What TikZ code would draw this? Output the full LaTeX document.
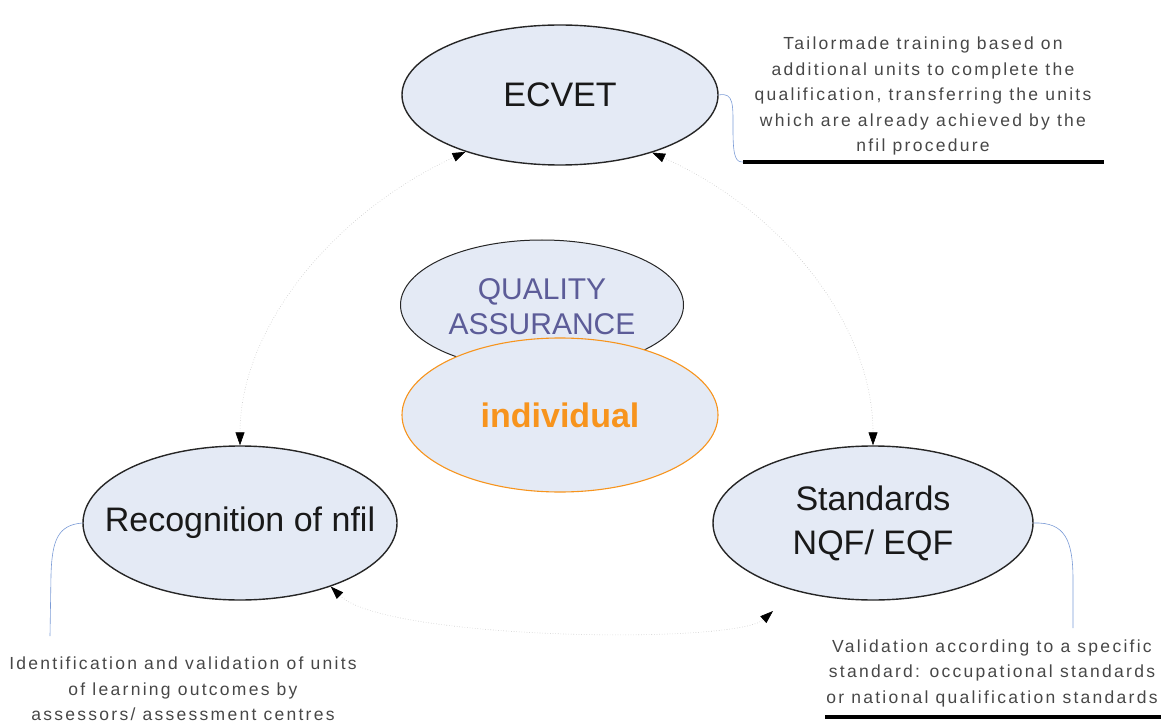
\documentclass[tikz,border=0pt]{standalone}
\usepackage{fontspec}
\setmainfont{Liberation Sans}
\newfontfamily\notefont[LetterSpace=13]{Liberation Sans}
\usetikzlibrary{arrows.meta,shapes.geometric}

\definecolor{bubblefill}{HTML}{E4EAF5}
\definecolor{qatext}{HTML}{5C5C98}
\definecolor{indiv}{HTML}{F7941D}
\definecolor{callout}{HTML}{7B9BD6}

\tikzset{
  bubble/.style={ellipse,draw=black!85,fill=bubblefill,line width=1.4pt,inner sep=0pt},
  bigtext/.style={font=\fontsize{34}{44}\selectfont,align=center,text=black!90},
  note/.style={font=\notefont\fontsize{17.5}{25.5}\selectfont,align=center,text=black!72},
  link/.style={draw=black!22,dotted,line width=0.6pt,
    {Triangle[length=13pt,width=9pt,color=black]}-{Triangle[length=13pt,width=9pt,color=black]}},
  lead/.style={draw=callout,line width=0.6pt},
  rule/.style={line width=3.4pt}
}

\begin{document}
\begin{tikzpicture}[x=1pt,y=-1pt]
  \useasboundingbox (0,0) rectangle (1161,727);

  % the five bubbles
  \node[bubble,minimum width=316pt,minimum height=140pt] (ecvet) at (560,95) {};
  \node[bubble,minimum width=283pt,minimum height=130pt,line width=1pt] (qa) at (542,305) {};
  \node[bubble,draw=indiv,minimum width=316pt,minimum height=154pt,line width=1.1pt] (ind) at (560,415) {};
  \node[bubble,minimum width=314pt,minimum height=154pt] (rec) at (240,523) {};
  \node[bubble,minimum width=320pt,minimum height=154pt] (std) at (873,523) {};

  \node[bigtext] (ecvettext) at (ecvet) {ECVET};
  \node[bigtext,text=qatext,font=\fontsize{30}{35}\selectfont] (qatext) at (542,307) {QUALITY\\ASSURANCE};
  \node[bigtext,text=indiv,font=\fontsize{34}{40}\bfseries] (indtext) at (ind) {individual};
  \node[bigtext] (rectext) at (rec) {Recognition of nfil};
  \node[bigtext] (stdtext) at (873,523) {Standards\\NQF/ EQF};

  % dotted links between the outer bubbles
  \coordinate (stdfoot) at (773,611);
  \draw[link] (ecvet.211) .. controls (330,215) and (240,330) .. (rec.90);
  \draw[link] (ecvet.328) .. controls (790,215) and (873,330) .. (std.90);
  \draw[link] (rec.325) .. controls (385,640) and (735,645) .. (stdfoot);

  % notes with their leader lines
  \coordinate (ecvetrule) at (743,162);
  \coordinate (ecvetruleend) at (1104,162);
  \coordinate (recfoot) at (50,636);
  \coordinate (stdrule) at (1073,628);
  \coordinate (stdruleA) at (825,717);
  \coordinate (stdruleB) at (1161,717);

  \draw[lead] (ecvet.east) .. controls (734,92) and (733,105) .. (733,130)
    .. controls (733,158) and (736,162) .. (ecvetrule);
  \draw[rule] (ecvetrule) -- (ecvetruleend);
  \draw[lead] (rec.west) .. controls (58,525) and (52,540) .. (51,575) -- (recfoot);
  \draw[lead] (std.east) .. controls (1065,522) and (1073,540) .. (1073,580) -- (stdrule);
  \draw[rule] (stdruleA) -- (stdruleB);

  \node[note] (ecvetnote) at (923,96) {Tailormade training based on\\additional units to complete the\\qualification, transferring the units\\which are already achieved by the\\nfil procedure};
  \node[note] (recnote) at (183,689) {Identification and validation of units\\of learning outcomes by\\assessors/ assessment centres};
  \node[note] (stdnote) at (992,673) {Validation according to a specific\\standard: occupational standards\\or national qualification standards};
\end{tikzpicture}
\end{document}
